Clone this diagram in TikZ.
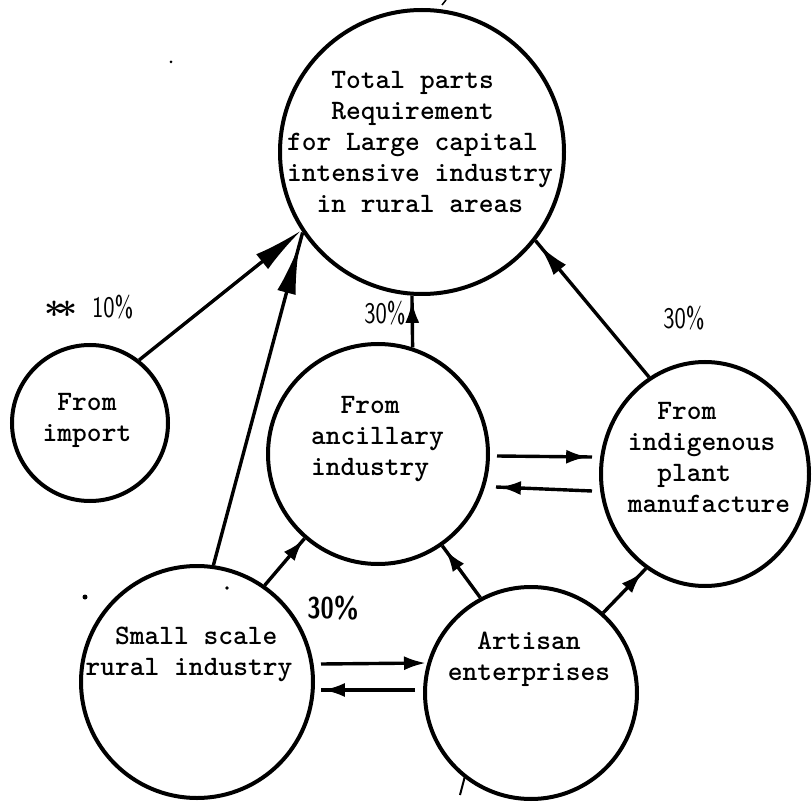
\documentclass[tikz,border=0pt]{standalone}
\usetikzlibrary{arrows.meta,decorations.markings,shapes.geometric}

\tikzset{
  bigtip/.tip={Latex[length=50pt,width=19pt]},
  midtip/.tip={Latex[length=32pt,width=16pt]},
  smalltip/.tip={Latex[length=22pt,width=14pt]},
  bubble/.style={circle, draw, line width=4pt, inner sep=0pt},
  words/.style={font=\fontsize{28.1}{31}\selectfont\ttfamily\bfseries, inner sep=0pt},
  pct/.style={font=\fontsize{30}{34}\selectfont\sffamily, inner sep=0pt},
  link/.style={line width=3.4pt},
  headat/.style 2 args={postaction={decorate},
    decoration={markings, mark=at position #1 with {\arrow{#2}}}},
  speck/.style={fill=black}
}

\begin{document}
\begin{tikzpicture}[x=1pt,y=-1pt]
\useasboundingbox (0,0) rectangle (812,805);

% the six circles
\node[bubble, minimum size=284pt] (top) at (422,152) {};
\node[bubble, minimum size=156pt] (imp) at (90,423) {};
\node[bubble, minimum size=220pt] (anc) at (378,454) {};
\node[bubble, ellipse, minimum width=208pt, minimum height=224pt] (ind) at (705,474) {};
\node[bubble, minimum size=232pt] (sml) at (197,682) {};
\node[bubble, minimum size=212pt] (art) at (531,693) {};

% typed texts inside the circles
\node[words, align=left] (topTxt) at (420,142.4)
  {\ \ \ Total parts\\\ \ \ Requirement\\for Large capital\\intensive industry\\\ \ in rural areas};
\node[words, align=center] (impTxt) at (87,420.5) {From\\import};
\node[words, align=left] (ancTxt) at (377.4,439.5) {\ \ From\\ancillary\\industry};
\node[words, align=left] (indTxt) at (709,457) {\ \ From\\indigenous\\\ \ plant\\manufacture};
\node[words, align=left] (smlTxt) at (189,654.5) {\ \ Small scale\\rural industry};
\node[words, align=left] (artTxt) at (529,659.5) {\ \ Artisan\\enterprises};

% shares
\node[pct] (p10) at (89,307)
  {\scalebox{1.4}{\boldmath$\ast\!\ast$}\hspace{14pt}\scalebox{0.8}[1]{10\%}};
\node[pct] (p30a) at (385,313) {\scalebox{0.8}[1]{30\%}};
\node[pct] (p30b) at (684,318) {\scalebox{0.8}[1]{30\%}};
\node[pct, font=\fontsize{30}{34}\selectfont\sffamily\bfseries] (p30c) at (333,608)
  {\scalebox{0.8}[1]{30\%}};

% flows into the total requirement
\draw[link, -{bigtip}] (imp.52.7) -- (top.213.7);
\draw[link, headat={0.965}{bigtip}] (sml.82) -- (top.214.2);
\draw[link, headat={0.9}{smalltip}] (anc.72) -- (top.266.4);
\draw[link, headat={0.967}{midtip}] (ind.120.8) -- (top.322);

% flows between the suppliers
\draw[link, headat={0.98}{smalltip}] (sml.55.2) -- (anc.229.3);
\draw[link, headat={0.92}{smalltip}] (art.118.7) -- (anc.305);
\draw[link, headat={0.92}{smalltip}] (art.48) -- (ind.238.3);

\draw[link, headat={0.96}{smalltip}] ([shift={(7,2)}]anc.east) -- ([shift={(-7,-17)}]ind.west);
\draw[link, headat={0.97}{smalltip}] ([shift={(-7,17)}]ind.west) -- ([shift={(6,33)}]anc.east);

\draw[link, -{smalltip}] ([shift={(6,-18)}]sml.east) -- ([shift={(3,-30)}]art.west);
\draw[link, headat={0.98}{smalltip}] ([shift={(-8,-3)}]art.west) -- ([shift={(6,8)}]sml.east);

% small stray marks on the sheet
\fill[speck] (85,597) circle (2.5);
\fill[speck] (227,588) circle (1.8);
\fill[speck] (171,62) circle (1.5);
\draw[line width=2pt] (465,776) -- (460,795);
\draw[line width=1.5pt] (446,0) -- (442,5);
\end{tikzpicture}
\end{document}
